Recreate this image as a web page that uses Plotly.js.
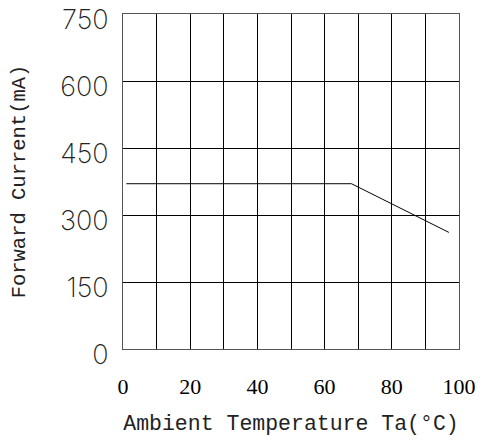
<!DOCTYPE html>
<html><head><meta charset="utf-8">
<script src="https://cdn.plot.ly/plotly-3.0.1.min.js"></script>
<style>html,body{margin:0;padding:0;background:#fff}#chart{width:483px;height:441px}</style>
</head><body><div id="chart"></div>
<script>
const temperature = [1, 68, 97];
const forwardCurrent = [370, 370, 261];
const xTickVals = [0, 20, 40, 60, 80, 100];
const yTickVals = [0, 150, 300, 450, 600, 750];

const data = [{
  x: temperature, y: forwardCurrent, type: 'scatter', mode: 'lines',
  line: {color: '#000', width: 1}, hoverinfo: 'skip'
}];
const layout = {
  width: 483, height: 441,
  margin: {l: 122.5, r: 24, t: 14, b: 92},
  paper_bgcolor: '#fff', plot_bgcolor: '#fff',
  showlegend: false,
  xaxis: {
    range: [0, 100], tickvals: xTickVals, ticks: 'outside', ticklen: 0,
    ticklabelstandoff: 18,
    showgrid: true, gridcolor: '#000', gridwidth: 1,
    minor: {dtick: 10, showgrid: true, gridcolor: '#000', gridwidth: 1},
    showline: true, mirror: true, linecolor: '#555', linewidth: 1,
    zeroline: false,
    tickfont: {family: 'Liberation Serif', size: 22, color: '#000'},
    title: {text: 'Ambient Temperature Ta(°C)', standoff: 16,
      font: {family: 'Liberation Mono', size: 21.5, color: '#222'}}
  },
  yaxis: {
    range: [0, 750], tickvals: yTickVals, ticks: 'outside', ticklen: 0,
    ticklabelstandoff: 8, ticklabelshift: 6, ticklabeloverflow: 'allow',
    showgrid: true, gridcolor: '#000', gridwidth: 1,
    showline: true, mirror: true, linecolor: '#555', linewidth: 1,
    zeroline: false,
    tickfont: {family: 'Inter', weight: 200, size: 27, color: '#222'},
    title: {text: 'Forward Current(mA)', standoff: 28,
      font: {family: 'Liberation Mono', size: 20.5, color: '#222'}}
  }
};
Plotly.newPlot('chart', data, layout, {staticPlot: true, displayModeBar: false});
</script></body></html>
